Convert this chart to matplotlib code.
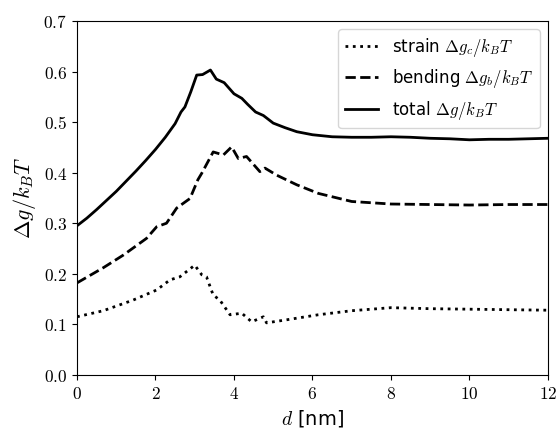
import matplotlib
matplotlib.use("Agg")
import matplotlib.pyplot as plt
import numpy as np

plt.rcParams['mathtext.fontset'] = 'cm'
plt.rcParams['font.family'] = 'DejaVu Sans'

# total free energy
d_total = [0, 0.25, 0.5, 0.75, 1, 1.25, 1.5, 1.75, 2, 2.25, 2.5, 2.65, 2.75, 2.9,
           3.05, 3.2, 3.4, 3.55, 3.75, 4.0, 4.2, 4.35, 4.55, 4.75, 5, 5.3, 5.6,
           6, 6.5, 7, 7.5, 8, 8.5, 9, 9.5, 10, 10.5, 11, 11.5, 12]
g_total = [0.295, 0.31, 0.327, 0.345, 0.363, 0.383, 0.403, 0.424, 0.446, 0.47,
           0.497, 0.52, 0.53, 0.56, 0.593, 0.594, 0.603, 0.585, 0.578, 0.556,
           0.547, 0.535, 0.52, 0.513, 0.498, 0.489, 0.481, 0.475, 0.471, 0.47,
           0.47, 0.471, 0.47, 0.468, 0.467, 0.465, 0.466, 0.466, 0.467, 0.468]

# bending contribution
d_bend = [0, 0.67, 1.18, 1.77, 2.03, 2.28, 2.54, 2.88, 3.08, 3.18, 3.47, 3.73,
          3.94, 4.11, 4.32, 4.66, 4.79, 5.09, 5.6, 6.15, 7, 8, 9, 10, 11, 12]
g_bend = [0.182, 0.212, 0.237, 0.27, 0.293, 0.3, 0.33, 0.349, 0.386, 0.399,
          0.441, 0.435, 0.451, 0.428, 0.432, 0.402, 0.409, 0.395, 0.376, 0.359,
          0.343, 0.338, 0.337, 0.336, 0.337, 0.337]

# strain contribution
d_strain = [0, 0.67, 1.43, 2.03, 2.37, 2.62, 3.0, 3.18, 3.3, 3.47, 3.64, 3.9,
            4.2, 4.45, 4.75, 4.83, 5.34, 6.15, 7, 8, 9, 10, 11, 12]
g_strain = [0.115, 0.127, 0.148, 0.168, 0.188, 0.194, 0.217, 0.198, 0.194,
            0.158, 0.148, 0.119, 0.122, 0.105, 0.115, 0.103, 0.109, 0.119,
            0.127, 0.133, 0.131, 0.13, 0.129, 0.128]

fig = plt.figure(figsize=(5.56, 4.28), dpi=100)
ax = fig.add_axes([0.1385, 0.124, 0.847, 0.827])

ax.plot(d_strain, g_strain, ':', color='black', lw=2,
        label=r'strain $\Delta g_c/k_BT$')
ax.plot(d_bend, g_bend, '--', color='black', lw=2,
        label=r'bending $\Delta g_b/k_BT$')
ax.plot(d_total, g_total, '-', color='black', lw=2,
        label=r'total $\Delta g/k_BT$')

ax.set_xlim(0, 12)
ax.set_ylim(0, 0.7)
ax.set_xticks(np.arange(0, 13, 2))
ax.set_xticklabels([r'$%d$' % v for v in range(0, 13, 2)])
ax.set_yticks(np.arange(0, 0.71, 0.1))
ax.set_yticklabels([r'$%.1f$' % v for v in np.arange(0, 0.71, 0.1)])
ax.tick_params(labelsize=12.5)

ax.set_xlabel(r'$d$ [nm]', fontsize=14)
ax.set_ylabel(r'$\Delta g/k_BT$', fontsize=16)
ax.legend(loc='upper right', fontsize=12)

fig.savefig('out.png', dpi=100)
